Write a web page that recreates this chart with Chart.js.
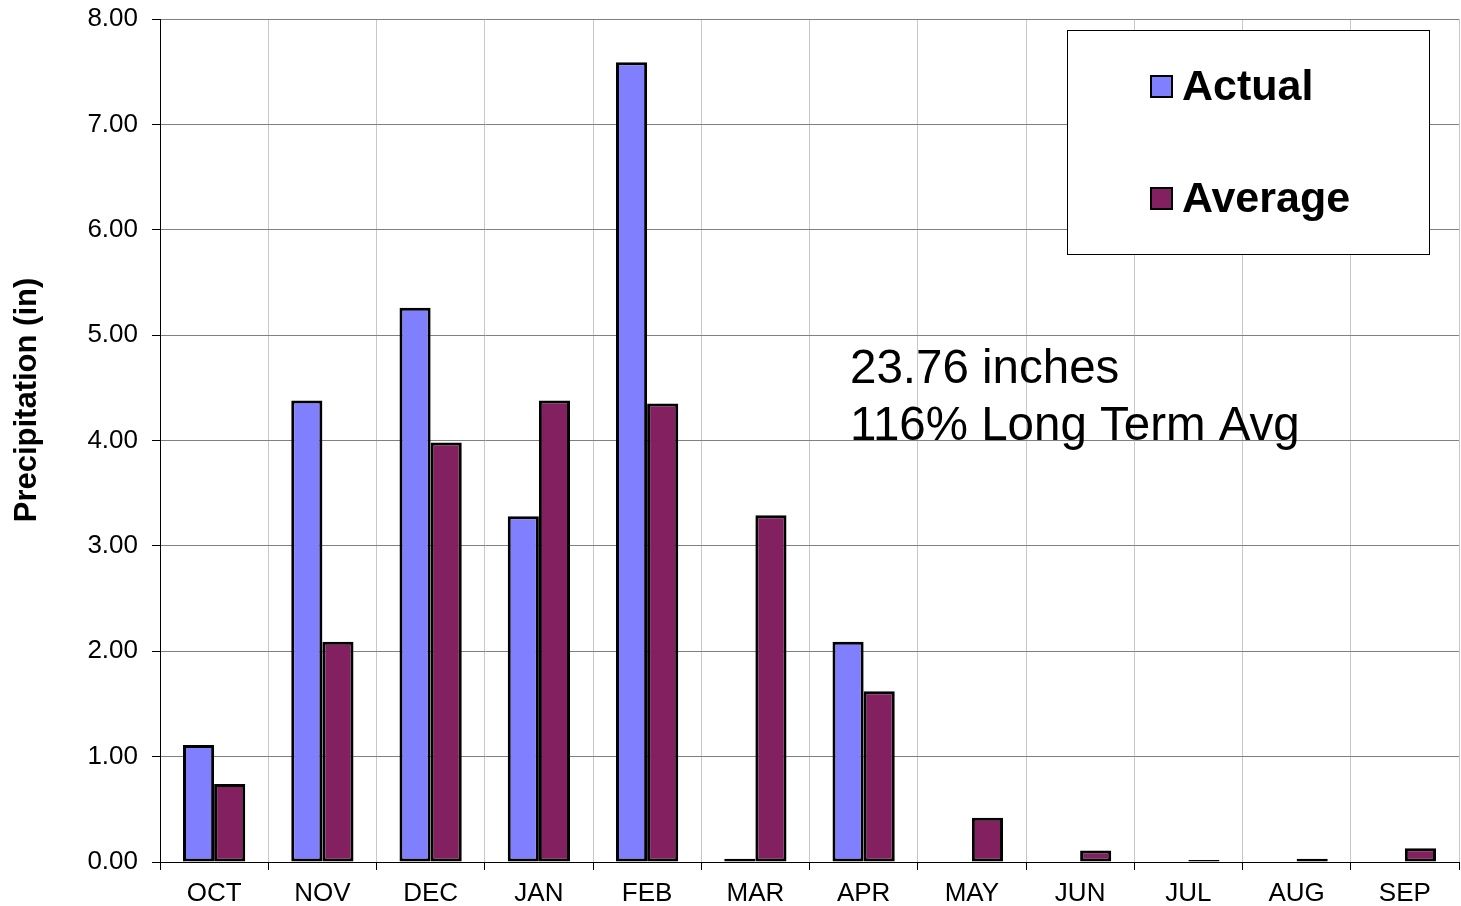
<!doctype html>
<html lang="en">
<head>
<meta charset="utf-8">
<title>Precipitation</title>
<script src="https://cdn.jsdelivr.net/npm/chart.js@4/dist/chart.umd.min.js"></script>
<style>
  html, body { margin: 0; padding: 0; background: #fff; }
  #wrap { width: 1461px; height: 906px; }
</style>
</head>
<body>
<div id="wrap"><canvas id="precip"></canvas></div>
<script>
var months = ["OCT", "NOV", "DEC", "JAN", "FEB", "MAR", "APR", "MAY", "JUN", "JUL", "AUG", "SEP"];
var actual = [1.11, 4.38, 5.26, 3.28, 7.59, 0.03, 2.09, 0, 0, 0, 0, 0];
var average = [0.74, 2.09, 3.98, 4.38, 4.35, 3.29, 1.62, 0.42, 0.11, 0.02, 0.03, 0.13];
var noteLines = ["23.76 inches", "116% Long Term Avg"];
var yTitle = "Precipitation (in)";

var font = "'Liberation Sans', Arial, sans-serif";

// legend box, note and axis title drawn on top of the plot
var extras = {
  id: 'extras',
  afterDraw: function(chart) {
    var c = chart.ctx;
    var sets = chart.data.datasets;
    c.save();
    c.fillStyle = '#fff';
    c.fillRect(1067, 30, 362, 224);
    c.strokeStyle = '#000';
    c.lineWidth = 1;
    c.strokeRect(1067.5, 30.5, 362, 224);
    c.font = 'bold 43px ' + font;
    c.textBaseline = 'middle';
    for (var i = 0; i < sets.length; i++) {
      var y = 87 + i * 112;
      c.fillStyle = sets[i].backgroundColor;
      c.fillRect(1151, y - 11, 21, 21);
      c.lineWidth = 2;
      c.strokeRect(1151, y - 11, 21, 21);
      c.fillStyle = '#000';
      c.fillText(sets[i].label, 1182, y + 1);
    }
    c.font = '47.5px ' + font;
    c.textBaseline = 'alphabetic';
    c.fillText(noteLines[0], 850, 383);
    c.fillText(noteLines[1], 850, 440);

    c.translate(27, 400);
    c.rotate(-Math.PI / 2);
    c.font = 'bold 31px ' + font;
    c.textAlign = 'center';
    c.textBaseline = 'middle';
    c.fillText(yTitle, 0, 0);
    c.restore();
  }
};

var ctx = document.getElementById("precip");
var myChart = new Chart(ctx, {
  type: 'bar',
  data: {
    labels: months,
    datasets: [
      {
        label: 'Actual',
        data: actual,
        backgroundColor: '#8080FF',
        borderColor: '#000',
        borderWidth: 3,
        borderSkipped: false,
        categoryPercentage: 0.575,
        barPercentage: 1.0
      },
      {
        label: 'Average',
        data: average,
        backgroundColor: '#822060',
        borderColor: '#000',
        borderWidth: 3,
        borderSkipped: false,
        categoryPercentage: 0.575,
        barPercentage: 1.0
      }
    ]
  },
  options: {
    responsive: true,
    maintainAspectRatio: false,
    animation: false,
    layout: { padding: { top: 19, right: 2, left: 0, bottom: 0 } },
    plugins: {
      legend: { display: false },
      tooltip: { enabled: false }
    },
    scales: {
      x: {
        grid: {
          color: '#c8c8c8',
          lineWidth: 1,
          tickColor: '#000',
          tickLength: 8,
          offset: true
        },
        border: { color: '#000', width: 1 },
        ticks: {
          color: '#000',
          font: { family: font, size: 26 },
          padding: 8,
          maxRotation: 0
        },
        afterFit: function(scale) { scale.height = 44; }
      },
      y: {
        min: 0,
        max: 8,
        grid: {
          color: '#808080',
          lineWidth: 1,
          tickColor: '#000',
          tickLength: 8
        },
        border: { color: '#000', width: 1 },
        ticks: {
          stepSize: 1,
          color: '#000',
          font: { family: font, size: 26 },
          padding: 14,
          callback: function(v) { return v.toFixed(2); }
        },
        afterFit: function(scale) {
          scale.width = 160;
          scale.paddingTop = 0;
          scale.paddingBottom = 0;
        }
      }
    }
  },
  plugins: [extras]
});
</script>
</body>
</html>
